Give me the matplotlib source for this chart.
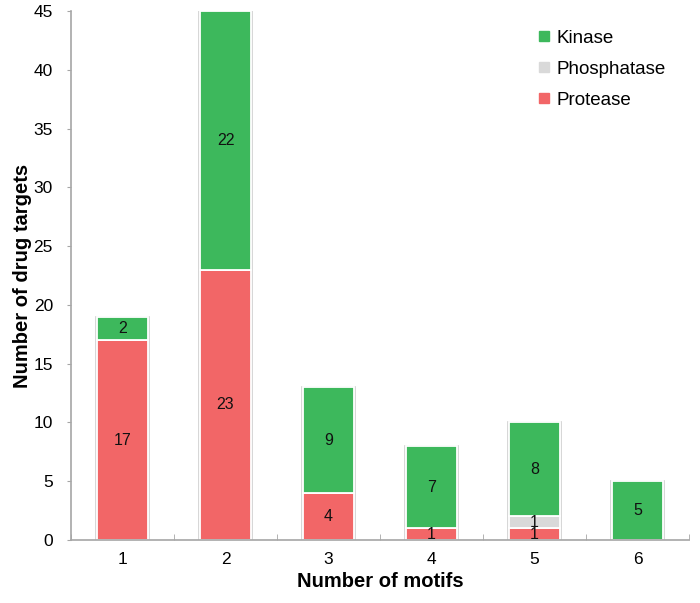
import matplotlib
matplotlib.use("Agg")
import matplotlib.pyplot as plt
import numpy as np
from matplotlib.lines import Line2D

plt.rcParams['font.family'] = ['Liberation Sans', 'DejaVu Sans']

categories = [1, 2, 3, 4, 5, 6]
protease = [17, 23, 4, 1, 1, 0]
phosphatase = [0, 0, 0, 0, 1, 0]
kinase = [2, 22, 9, 7, 8, 5]
yticks = [0, 5, 10, 15, 20, 25, 30, 35, 40, 45]

c_prot = '#F26667'
c_phos = '#D9D9D9'
c_kin = '#3DB85C'

fig = plt.figure(figsize=(7.0, 6.03), dpi=100)
ax = fig.add_axes([71/700, 1-540/603, 618/700, 529/603])

x = np.array(categories)
w = 0.5
prot = np.array(protease)
phos = np.array(phosphatase)
kin = np.array(kinase)
total = prot + phos + kin

# outline
ax.bar(x, total, w + 0.02, color='none', edgecolor='#CFCFCF', linewidth=1.2, zorder=1)
ax.bar(x, prot, w, color=c_prot, edgecolor='white', linewidth=1.3, zorder=2, label='Protease')
ax.bar(x, phos, w, bottom=prot, color=c_phos, edgecolor='white', linewidth=1.3, zorder=2, label='Phosphatase')
ax.bar(x, kin, w, bottom=prot + phos, color=c_kin, edgecolor='white', linewidth=1.3, zorder=2, label='Kinase')

for vals, bots in [(prot, np.zeros_like(prot)), (phos, prot), (kin, prot + phos)]:
    for a, v, b in zip(x, vals, bots):
        if v > 0:
            ax.text(a, b + v / 2, str(v), ha='center', va='center', fontsize=11.5, color='#111111', zorder=3)

ax.set_xlim(0.5, 6.5)
ax.set_ylim(0, 45)
ax.set_yticks(yticks)
ax.set_xticks(categories)
ax.set_xticks(np.arange(0.5, 7, 1), minor=True)
ax.tick_params(axis='x', which='major', length=0, labelsize=12.5, pad=9)
ax.tick_params(axis='x', which='minor', direction='in', length=4, color='#A6A6A6')
ax.tick_params(axis='y', direction='out', length=3, color='#A6A6A6', labelsize=12.5, pad=10)

for s in ['top', 'right']:
    ax.spines[s].set_visible(False)
for s in ['left', 'bottom']:
    ax.spines[s].set_color('#A6A6A6')
    ax.spines[s].set_linewidth(1.2)

ax.set_xlabel('Number of motifs', fontsize=14.5, fontweight='bold', labelpad=3)
ax.set_ylabel('Number of drug targets', fontsize=14.5, fontweight='bold', labelpad=1)

handles = [Line2D([], [], marker='s', linestyle='none', markersize=6.5, color=c) for c in [c_kin, c_phos, c_prot]]
ax.legend(handles, ['Kinase', 'Phosphatase', 'Protease'], loc='upper right', bbox_to_anchor=(0.99, 0.997),
          frameon=False, fontsize=13.5, handlelength=0.6, handletextpad=0.4, labelspacing=0.75)

fig.savefig('out.png', dpi=100)
